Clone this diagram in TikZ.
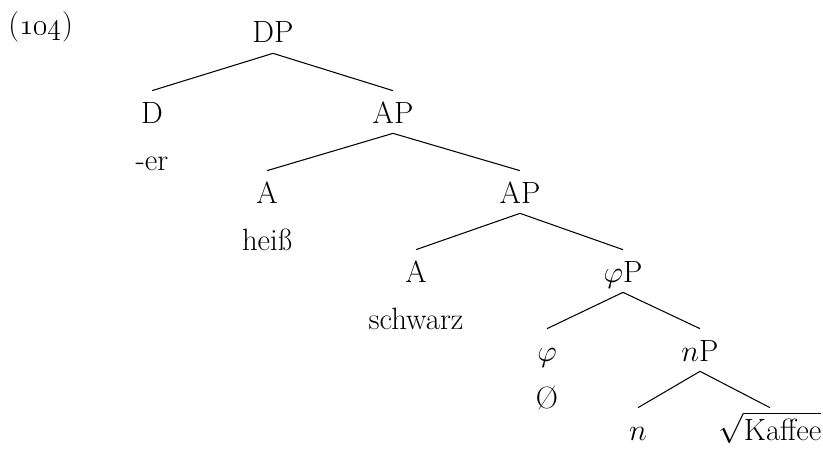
\documentclass[tikz,border=0pt]{standalone}
\usepackage{amsmath}
\usetikzlibrary{positioning}

\begin{document}
\begin{tikzpicture}[x=0.02cm, y=-0.02cm, font=\fontsize{17.5}{21}\selectfont,
	   cat/.style={anchor=base, text height=0.44cm, text depth=0pt, inner ysep=0.2cm, inner xsep=1pt},
	   word/.style={cat},
	   edge/.style={line width=0.6pt}]
	  \useasboundingbox (0,0) rectangle (823,453);
	  \node[anchor=base west, inner sep=0pt] (ex) at (8,34) {(\oldstylenums{104})};
	  % categories
	  \node[cat] (DP) at (273,43) {DP};
	  \node[cat] (D) at (152,123) {D};
	  \node[cat] (AP1) at (393,123) {AP};
	  \node[cat] (A1) at (267,203) {A};
	  \node[cat] (AP2) at (520,203) {AP};
	  \node[cat] (A2) at (416,282) {A};
	  \node[cat] (phiP) at (623,282) {$\varphi$P};
	  \node[cat] (phi) at (547,361) {$\varphi$};
	  \node[cat] (nP) at (700,361) {$n$P};
	  \node[cat] (n) at (638,440) {$n$};
	  \node[cat] (root) at (770,440) {$\sqrt{\text{Kaffee}}$};
	  % exponents
	  \node[word, below=0.1cm of D] (er) {-er};
	  \node[word, below=0.1cm of A1] (heiss) {heiß};
	  \node[word, below=0.1cm of A2] (schwarz) {schwarz};
	  \node[word, below=0.1cm of phi] (null) {\O};
	  % branches
	  \draw[edge] (D.north) -- (DP.south) -- (AP1.north);
	  \draw[edge] (A1.north) -- (AP1.south) -- (AP2.north);
	  \draw[edge] (A2.north) -- (AP2.south) -- (phiP.north);
	  \draw[edge] (phi.north) -- (phiP.south) -- (nP.north);
	  \draw[edge] (n.north) -- (nP.south) -- (root.north);
	\end{tikzpicture}
\end{document}
